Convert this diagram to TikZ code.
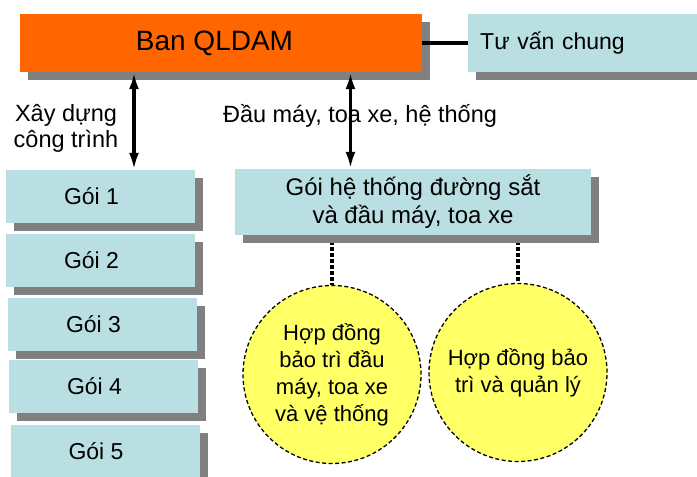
\documentclass[tikz,border=0pt]{standalone}
\usepackage{fontspec}
\setmainfont{Liberation Sans}
\usetikzlibrary{positioning}
\usetikzlibrary{shadows}
\usetikzlibrary{arrows.meta}
\usetikzlibrary{backgrounds}

\definecolor{qlorange}{HTML}{FF6600}
\definecolor{goiblue}{HTML}{B9DFE2}
\definecolor{hdyellow}{HTML}{FFFF66}
\definecolor{shadowgray}{HTML}{808080}

\begin{document}
\begin{tikzpicture}[
        x = 1pt, y = -1pt,
        box/.style = {
            rectangle,
            fill = #1,
            minimum width = 189pt,
            minimum height = 53pt,
            inner sep = 0pt,
            font = \fontsize{23}{28}\selectfont,
            drop shadow = {shadow xshift=8pt, shadow yshift=-8pt, fill=shadowgray, opacity=1}
        },
        box/.default = goiblue,
        % text in the packet boxes sits a little left of centre
        goi/.style = {
            box,
            execute at begin node = \hspace*{-18pt}
        },
        hopdong/.style = {
            circle,
            draw,
            dash pattern = on 4pt off 2.5pt,
            line width = 1.3pt,
            fill = hdyellow,
            minimum size = 178pt,
            inner sep = 0pt,
            align = center,
            font = \fontsize{22}{27}\selectfont
        },
        arr/.style = {
            {Latex[length=17pt, width=10pt]}-{Latex[length=17pt, width=10pt]},
            line width = 3.5pt
        },
        nhan/.style = {
            align = center,
            font = \fontsize{23.5}{26}\selectfont
        }
        ]
        \useasboundingbox (0,0) rectangle (697,477);
        \clip (0,0) rectangle (697,477);
%
        \node[box=qlorange, minimum width=402pt, minimum height=58pt, font=\fontsize{28}{32}\selectfont,
              execute at begin node=\hspace*{-13pt}] (qldam) at (221,43) {Ban QLDAM};
        \node[box, anchor=west, minimum height=58pt, text width=248pt, inner xsep=12pt] (tuvan) at (468,43) {Tư vấn chung};
%
        \node[goi] (goi1) at (100.5,196.5) {Gói 1};
        \node[goi] (goi2) at (100.5,260) {Gói 2};
        \node[goi] (goi3) at (102.5,324) {Gói 3};
        \node[goi] (goi4) at (103.5,386) {Gói 4};
        \node[goi] (goi5) at (105,451.5) {Gói 5};
%
        \node[box, minimum width=356pt, minimum height=66pt, align=center, font=\fontsize{24}{28}\selectfont] (hethong) at (413,202) {Gói hệ thống đường sắt\\và đầu máy, toa xe};
%
        \node[hopdong] (hd1) at (332,374.5) {Hợp đồng\\bảo trì đầu\\máy, toa xe\\và vệ thống};
        \node[hopdong] (hd2) at (518,372.5) {Hợp đồng bảo\\trì và quản lý};
%
        \node[nhan] (xaydung) at (66,128) {Xây dựng\\công trình};
        \node[nhan] (daumay) at (360,116) {Đầu máy, toa xe, hệ thống};
%
        \draw[line width=4pt] (qldam.east) -- (tuvan.west);
%
        \coordinate (a1) at ([xshift=33.5pt]goi1.north);
        \draw[arr] (a1 |- qldam.south) -- (a1);
        \coordinate (a2) at ([xshift=-62.5pt]hethong.north);
        \draw[arr] (a2 |- qldam.south) -- (a2);
%
        \begin{scope}[on background layer]
            \draw[line width=3.5pt, dash pattern=on 3.5pt off 2.5pt] (hethong.south -| hd1.north) -- (hd1.north);
            \draw[line width=3.5pt, dash pattern=on 3.5pt off 2.5pt] (hethong.south -| hd2.north) -- (hd2.north);
        \end{scope}
\end{tikzpicture}
\end{document}
